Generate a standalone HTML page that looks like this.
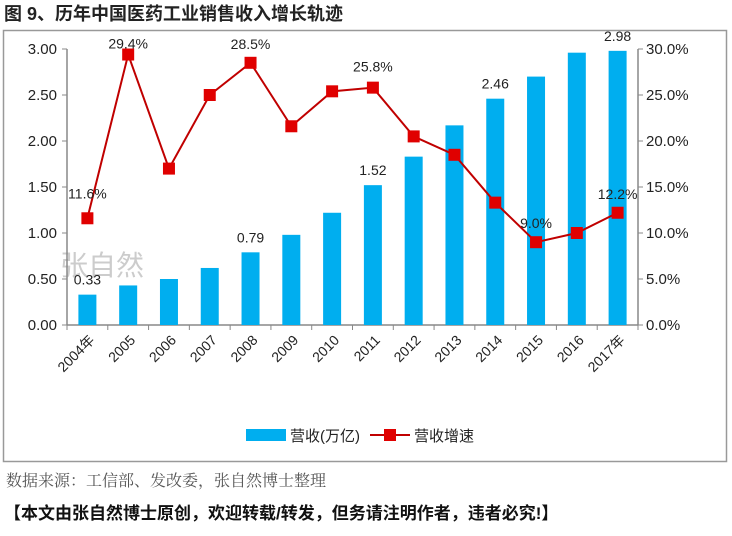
<!DOCTYPE html>
<html><head><meta charset="utf-8"><style>
body{margin:0;background:#fff;width:732px;height:531px;overflow:hidden;font-family:"Liberation Sans","Noto Sans CJK SC",sans-serif;}
</style></head><body>
<svg width="732" height="531" xmlns="http://www.w3.org/2000/svg" font-family="'Liberation Sans','Noto Sans CJK SC',sans-serif">
<text x="4" y="20" font-size="18" font-weight="bold" fill="#222">图 9、历年中国医药工业销售收入增长轨迹</text>
<rect x="3.5" y="30.5" width="723" height="431" fill="#fff" stroke="#999" stroke-width="1.5"/>
<text x="60" y="275" font-size="28" fill="#ccc">张自然</text>
<g id="plot"></g>
<text x="6" y="486" font-size="16" fill="#555" font-family="'Liberation Serif','Noto Serif CJK SC',serif">数据来源：工信部、发改委，张自然博士整理</text>
<text x="4" y="519" font-size="17" font-weight="bold" fill="#111">【本文由张自然博士原创，欢迎转载/转发，但务请注明作者，违者必究!】</text>
</svg>
<script>
const g=document.getElementById('plot');let s='';
const L=67,R=638,T=49,B=325,n=14,w=(R-L)/n;
const rev=[0.33,0.43,0.50,0.62,0.79,0.98,1.22,1.52,1.83,2.17,2.46,2.70,2.96,2.98];
const gr=[11.6,29.4,17.0,25.0,28.5,21.6,25.4,25.8,20.5,18.5,13.3,9.0,10.0,12.2];
const yr=v=>B-(B-T)*v/3, yg=v=>B-(B-T)*v/30;
s+=`<line x1="${L}" y1="${T}" x2="${L}" y2="${B}" stroke="#888" stroke-width="1.5"/>`;
s+=`<line x1="${R}" y1="${T}" x2="${R}" y2="${B}" stroke="#888" stroke-width="1.5"/>`;
s+=`<line x1="${L}" y1="${B}" x2="${R}" y2="${B}" stroke="#888" stroke-width="1.5"/>`;
for(let i=0;i<=6;i++){const y=yr(i*0.5);
s+=`<line x1="${L-5}" y1="${y}" x2="${L}" y2="${y}" stroke="#888"/><line x1="${R}" y1="${y}" x2="${R+5}" y2="${y}" stroke="#888"/>`;
s+=`<text x="${L-10}" y="${y+5}" font-size="15" text-anchor="end" fill="#222">${(i*0.5).toFixed(2)}</text>`;
s+=`<text x="${R+8}" y="${y+5}" font-size="15" fill="#222">${(i*5).toFixed(1)}%</text>`;}
const yrs=['2004年','2005','2006','2007','2008','2009','2010','2011','2012','2013','2014','2015','2016','2017年'];
for(let i=0;i<=n;i++){const x=L+i*w;s+=`<line x1="${x}" y1="${B}" x2="${x}" y2="${B+5}" stroke="#888"/>`;}
let pts=[];
for(let i=0;i<n;i++){const cx=L+w*(i+0.5);
s+=`<rect x="${cx-9}" y="${yr(rev[i])}" width="18" height="${B-yr(rev[i])}" fill="#00aeef"/>`;
s+=`<text transform="translate(${cx+8},${B+16}) rotate(-45)" font-size="14" text-anchor="end" fill="#222">${yrs[i]}</text>`;
pts.push(cx+','+yg(gr[i]));}
s+=`<polyline points="${pts.join(' ')}" fill="none" stroke="#c00000" stroke-width="2"/>`;
for(let i=0;i<n;i++){const cx=L+w*(i+0.5),y=yg(gr[i]);s+=`<rect x="${cx-6}" y="${y-6}" width="12" height="12" fill="#e00000"/>`;}
const lab=[[0,'11.6%',-20],[1,'29.4%',-6],[4,'28.5%',-14],[7,'25.8%',-16],[11,'9.0%',-14],[13,'12.2%',-14]];
lab.forEach(([i,t,d])=>{const cx=L+w*(i+0.5);s+=`<text x="${cx}" y="${yg(gr[i])+d}" font-size="14" text-anchor="middle" fill="#222">${t}</text>`;});
[[0,'0.33'],[4,'0.79'],[7,'1.52'],[10,'2.46'],[13,'2.98']].forEach(([i,t])=>{const cx=L+w*(i+0.5);s+=`<text x="${cx}" y="${yr(rev[i])-10}" font-size="14" text-anchor="middle" fill="#222">${t}</text>`;});
s+=`<rect x="246" y="429" width="40" height="12" fill="#00aeef"/><text x="290" y="441" font-size="15" fill="#222">营收(万亿)</text>`;
s+=`<line x1="370" y1="435" x2="410" y2="435" stroke="#c00000" stroke-width="2"/><rect x="384" y="429" width="12" height="12" fill="#e00000"/><text x="414" y="441" font-size="15" fill="#222">营收增速</text>`;
g.innerHTML=s;
</script>
</body></html>
